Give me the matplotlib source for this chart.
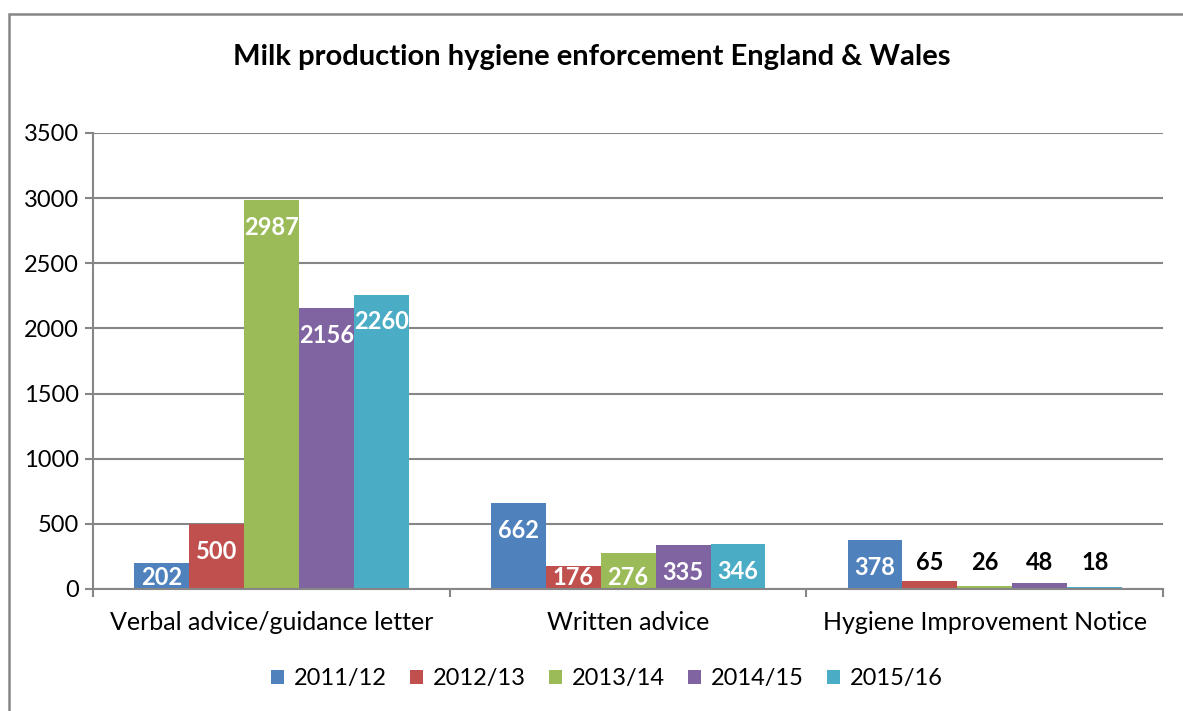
import matplotlib.pyplot as plt
import numpy as np
from matplotlib.patches import Rectangle

categories = ["Verbal advice/guidance letter", "Written advice", "Hygiene Improvement Notice"]
years = ["2011/12", "2012/13", "2013/14", "2014/15", "2015/16"]
values = [
    [202, 662, 378],
    [500, 176, 65],
    [2987, 276, 26],
    [2156, 335, 48],
    [2260, 346, 18],
]
colors = ["#4f81bd", "#c0504d", "#9bbb59", "#8064a2", "#4bacc6"]

plt.rcParams['font.family'] = ['Lato', 'DejaVu Sans']

fig = plt.figure(figsize=(11.83, 7.11), dpi=100)
ax = fig.add_axes([0.0786, 0.1716, 0.9047, 0.6414])

# outer chart frame
fig.patches.append(Rectangle((9 / 1183, -0.1), 1.2, 1 - 14 / 711 + 0.1, transform=fig.transFigure,
                             fill=False, edgecolor="#868686", linewidth=1.8))

x = np.arange(len(categories))
bw = 0.154
gray = "#868686"
for i, (yr, vals) in enumerate(zip(years, values)):
    pos = x - 2 * bw + i * bw
    ax.bar(pos, vals, bw, color=colors[i], label=yr, zorder=3)
    for p, v in zip(pos, vals):
        if v >= 150:
            ty = max(v - 210, 88)
            ax.text(p, ty, str(v), ha="center", va="center", color="white",
                    fontsize=17, fontweight="bold", zorder=4)
        else:
            ax.text(p, 207, str(v), ha="center", va="center", color="black",
                    fontsize=17, fontweight="bold", zorder=4)

ax.set_xlim(-0.5, 2.5)
ax.set_ylim(0, 3500)
ax.set_yticks(range(0, 3501, 500))
ax.yaxis.grid(True, color=gray, linewidth=1.5, zorder=0)
ax.set_xticks(x)
ax.set_xticklabels(categories)
ax.set_xticks([-0.5, 0.5, 1.5, 2.5], minor=True)
ax.tick_params(axis="x", which="major", length=0, pad=16, labelsize=18)
ax.tick_params(axis="x", which="minor", length=6, width=1.5, color=gray)
ax.tick_params(axis="y", length=6, width=1.5, color=gray, labelsize=17, pad=4)

for s in ["top", "right"]:
    ax.spines[s].set_visible(False)
for s in ["left", "bottom"]:
    ax.spines[s].set_color(gray)
    ax.spines[s].set_linewidth(1.5)
    ax.spines[s].set_zorder(5)

fig.text(0.5, 1 - 57 / 711, "Milk production hygiene enforcement England & Wales",
         ha="center", va="center", fontsize=21, fontweight="bold")

ax.legend(loc="center", bbox_to_anchor=(0.513, (711 - 679) / 711), bbox_transform=fig.transFigure,
          ncol=5, frameon=False, fontsize=17, handlelength=0.55, handleheight=0.55,
          handletextpad=0.4, columnspacing=1.0)

fig.savefig("out.png", dpi=100)
